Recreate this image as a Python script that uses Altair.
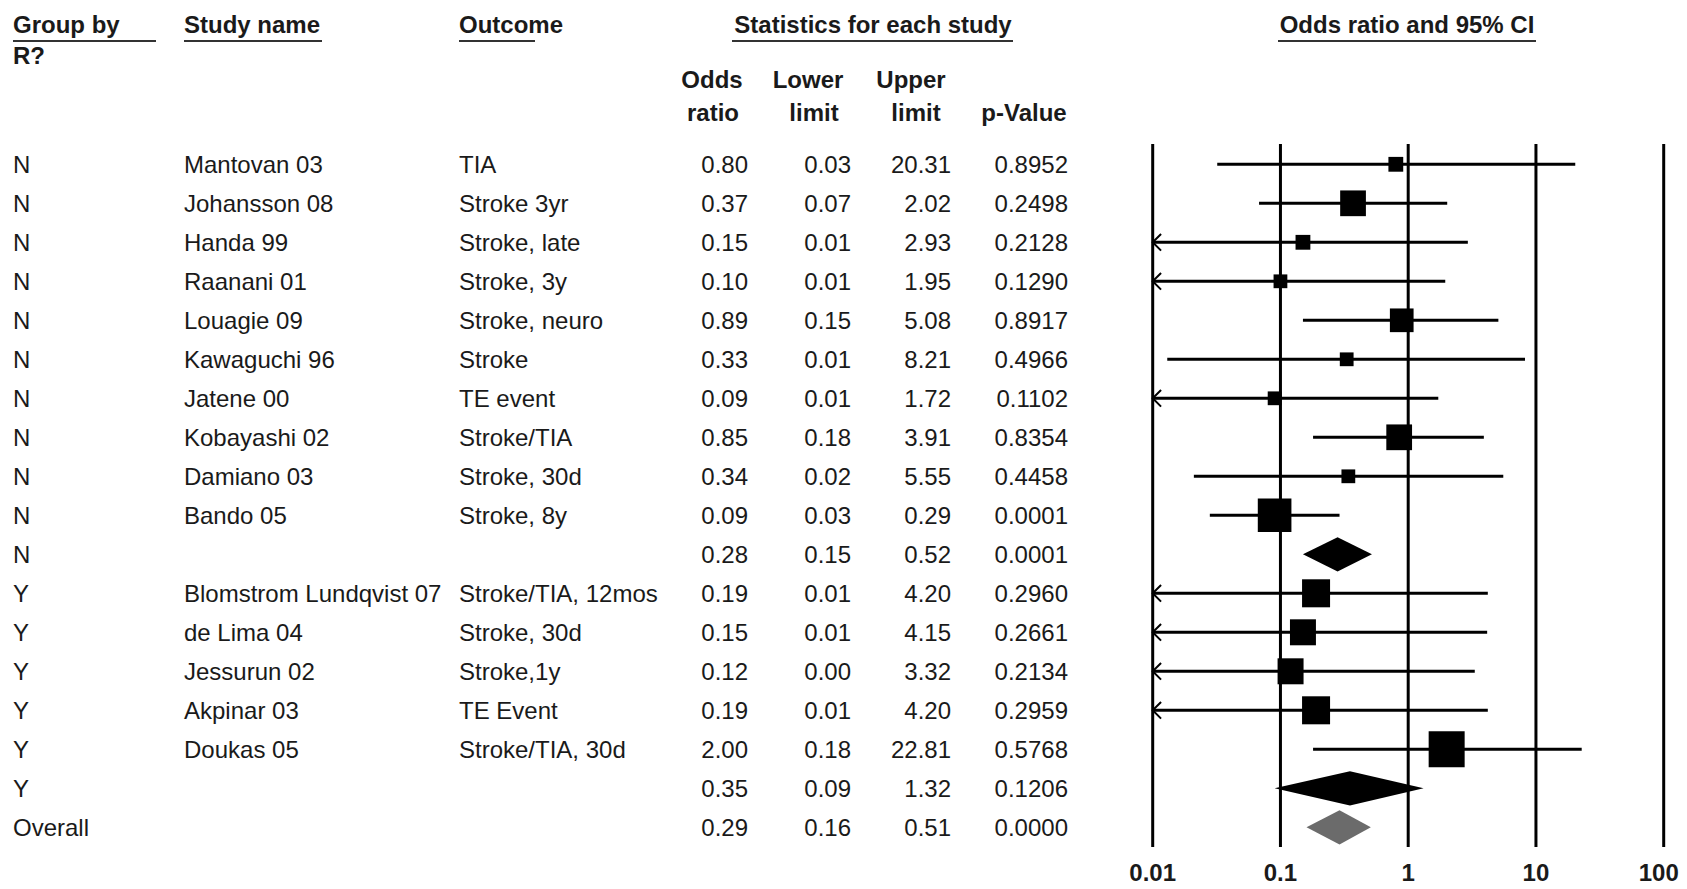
import altair as alt
import pandas as pd

# ---------------- data ----------------
group = ["N"] * 11 + ["Y"] * 6 + ["Overall"]
study = ["Mantovan 03", "Johansson 08", "Handa 99", "Raanani 01", "Louagie 09",
         "Kawaguchi 96", "Jatene 00", "Kobayashi 02", "Damiano 03", "Bando 05", "",
         "Blomstrom Lundqvist 07", "de Lima 04", "Jessurun 02", "Akpinar 03",
         "Doukas 05", "", ""]
outcome = ["TIA", "Stroke 3yr", "Stroke, late", "Stroke, 3y", "Stroke, neuro",
           "Stroke", "TE event", "Stroke/TIA", "Stroke, 30d", "Stroke, 8y", "",
           "Stroke/TIA, 12mos", "Stroke, 30d", "Stroke,1y", "TE Event",
           "Stroke/TIA, 30d", "", ""]
odds = [0.80, 0.37, 0.15, 0.10, 0.89, 0.33, 0.09, 0.85, 0.34, 0.09, 0.28,
        0.19, 0.15, 0.12, 0.19, 2.00, 0.35, 0.29]
lower = [0.03, 0.07, 0.01, 0.01, 0.15, 0.01, 0.01, 0.18, 0.02, 0.03, 0.15,
         0.01, 0.01, 0.00, 0.01, 0.18, 0.09, 0.16]
upper = [20.31, 2.02, 2.93, 1.95, 5.08, 8.21, 1.72, 3.91, 5.55, 0.29, 0.52,
         4.20, 4.15, 3.32, 4.20, 22.81, 1.32, 0.51]
pvalue = ["0.8952", "0.2498", "0.2128", "0.1290", "0.8917", "0.4966", "0.1102",
          "0.8354", "0.4458", "0.0001", "0.0001", "0.2960", "0.2661", "0.2134",
          "0.2959", "0.5768", "0.1206", "0.0000"]
# lower end of the drawn CI line (unrounded); rows cut at 0.01 get an arrow
drawn_lower = [0.032, 0.068, 0.01, 0.01, 0.15, 0.013, 0.01, 0.18, 0.021, 0.028, 0,
               0.01, 0.01, 0.01, 0.01, 0.18, 0, 0]
truncated = [0, 0, 1, 1, 0, 0, 1, 0, 0, 0, 0, 1, 1, 1, 1, 0, 0, 0]
# relative weight (%) of each study, drives the box size
weight = [5.2, 15.7, 5.2, 4.5, 13.3, 4.5, 4.5, 15.7, 4.5, 26.8, 0,
          18.6, 16.0, 16.0, 18.6, 30.7, 0, 0]
summary_rows = [10, 16, 17]
ticks = [0.01, 0.1, 1, 10, 100]
tick_labels = ["0.01", "0.1", "1", "10", "100"]

# ---------------- tables ----------------
rows = pd.DataFrame({
    "row": list(range(len(group))),
    "group": group, "study": study, "outcome": outcome,
    "odds": odds, "lower": lower, "upper": upper, "p": pvalue,
    "dlow": drawn_lower, "trunc": truncated, "weight": weight,
})
rows["odds_t"] = [f"{v:.2f}" for v in odds]
rows["lower_t"] = [f"{v:.2f}" for v in lower]
rows["upper_t"] = [f"{v:.2f}" for v in upper]
studies = rows[rows["study"] != ""].reset_index(drop=True)
arrows = studies[studies["trunc"] == 1].reset_index(drop=True)

HALF = 0.44  # diamond half height in row units (style)
dia = []
for r in summary_rows:
    kind = "overall" if group[r] == "Overall" else "group"
    dia += [
        {"d": str(r), "kind": kind, "x": lower[r], "y": r, "y2": r},
        {"d": str(r), "kind": kind, "x": odds[r], "y": r - HALF, "y2": r + HALF},
        {"d": str(r), "kind": kind, "x": upper[r], "y": r, "y2": r},
    ]
dia = pd.DataFrame(dia)
dia_g = dia[dia["kind"] == "group"].reset_index(drop=True)
dia_o = dia[dia["kind"] == "overall"].reset_index(drop=True)
tick_df = pd.DataFrame({"t": ticks, "lab": tick_labels})
tick_inner = tick_df[tick_df["t"] < max(ticks)].reset_index(drop=True)
tick_last = tick_df[tick_df["t"] == max(ticks)].reset_index(drop=True)

# ---------------- scales ----------------
XS = alt.Scale(type="log", domain=[0.01, 100], range=[1144.7, 1655.7])
YS = alt.Scale(domain=[0, 17], range=[156.3, 819.3])
FONT = "Liberation Sans"
FS = 24
INK = "#1a1a1a"
DY = 2


def xq(field):
    return alt.X(field, type="quantitative", scale=XS, axis=None)


def yq(field="row"):
    return alt.Y(field, type="quantitative", scale=YS, axis=None)


one = pd.DataFrame({"k": [1]})

layers = []

# reference lines and axis labels
layers.append(alt.Chart(tick_df).mark_rule(color="#000", strokeWidth=3).encode(
    x=xq("t"), y=alt.value(136), y2=alt.value(839)))
layers.append(alt.Chart(tick_inner).mark_text(
    font=FONT, fontSize=FS, fontWeight="bold", color=INK, baseline="middle", dy=DY).encode(
    x=xq("t"), y=alt.value(864), text="lab:N"))
layers.append(alt.Chart(tick_last).mark_text(
    font=FONT, fontSize=FS, fontWeight="bold", color=INK, baseline="middle", dy=DY,
    dx=-5).encode(x=xq("t"), y=alt.value(864), text="lab:N"))

# confidence intervals
layers.append(alt.Chart(studies).mark_rule(color="#000", strokeWidth=3).encode(
    x=xq("dlow"), x2="upper:Q", y=yq()))
# truncation arrows (tip at the 0.01 line)
layers.append(alt.Chart(arrows).mark_point(
    shape="M1,-1L0,0L1,1", filled=False, color="#000", strokeWidth=2, size=280,
    opacity=1).encode(x=xq("dlow"), y=yq()))
# boxes
layers.append(alt.Chart(studies).mark_square(color="#000", opacity=1).encode(
    x=xq("odds"), y=yq(),
    size=alt.Size("weight:Q", scale=alt.Scale(domain=[0, 100], range=[0, 4220]),
                  legend=None)))
# diamonds
layers.append(alt.Chart(dia_g).mark_area(color="#000", opacity=1).encode(
    x=xq("x"), y=yq("y"), y2="y2:Q", detail="d:N"))
layers.append(alt.Chart(dia_o).mark_area(color="#6b6b6b", opacity=1).encode(
    x=xq("x"), y=yq("y"), y2="y2:Q", detail="d:N"))


# table columns
def col(field, xpx, align):
    return alt.Chart(rows).mark_text(
        font=FONT, fontSize=FS, color=INK, align=align, baseline="middle", dy=DY).encode(
        x=alt.value(xpx), y=yq(), text=alt.Text(field, type="nominal"))


layers += [
    col("group", 5, "left"),
    col("study", 176, "left"),
    col("outcome", 451, "left"),
    col("odds_t", 740, "right"),
    col("lower_t", 843, "right"),
    col("upper_t", 943, "right"),
    col("p", 1060, "right"),
]


# headers
def head(txt, xpx, ypx, align="left"):
    return alt.Chart(one).mark_text(
        text=txt, font=FONT, fontSize=FS, fontWeight="bold", color=INK,
        align=align, baseline="middle", dy=DY).encode(x=alt.value(xpx), y=alt.value(ypx))


def uline(x1, x2, ypx):
    return alt.Chart(one).mark_rule(color="#333", strokeWidth=2).encode(
        x=alt.value(x1), x2=alt.value(x2), y=alt.value(ypx))


layers += [
    head("Group by", 5, 16), uline(5, 148, 33),
    head("R?", 5, 47),
    head("Study name", 176, 16), uline(176, 314, 33),
    head("Outcome", 451, 16), uline(451, 527, 33),
    head("Statistics for each study", 865, 16, "center"), uline(724, 1005, 33),
    head("Odds ratio and 95% CI", 1399, 16, "center"), uline(1270, 1528, 33),
    head("Odds", 704, 71, "center"), head("ratio", 705, 104, "center"),
    head("Lower", 800, 71, "center"), head("limit", 806, 104, "center"),
    head("Upper", 903, 71, "center"), head("limit", 908, 104, "center"),
    head("p-Value", 1016, 104, "center"),
]

chart = alt.layer(*layers).properties(
    width=1671, height=881, autosize="none", padding=0, background="white"
).configure_view(stroke=None)

chart.save("out.html", embed_options={"renderer": "svg", "actions": False})
